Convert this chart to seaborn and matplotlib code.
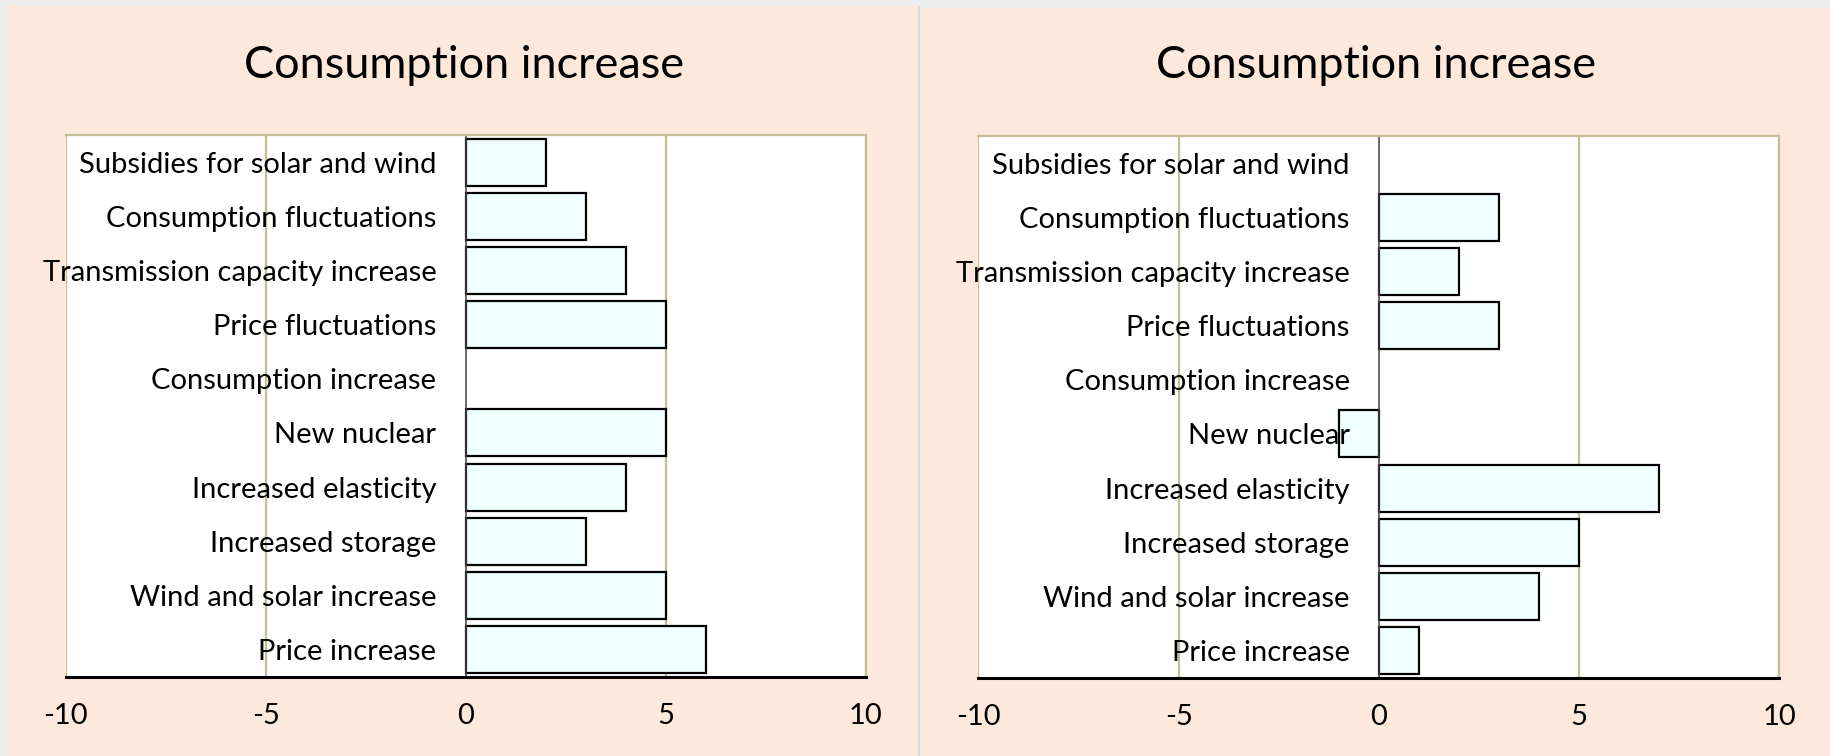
import matplotlib
matplotlib.use("Agg")
import matplotlib.pyplot as plt
from matplotlib.patches import Rectangle
import pandas as pd
import seaborn as sns

categories = [
    "Subsidies for solar and wind",
    "Consumption fluctuations",
    "Transmission capacity increase",
    "Price fluctuations",
    "Consumption increase",
    "New nuclear",
    "Increased elasticity",
    "Increased storage",
    "Wind and solar increase",
    "Price increase",
]
left_values = [2, 3, 4, 5, 0, 5, 4, 3, 5, 6]
right_values = [0, 3, 2, 3, 0, -1, 7, 5, 4, 1]
titles = ["Consumption increase", "Consumption increase"]
x_ticks = [-10, -5, 0, 5, 10]

PEACH = "#FCE9DC"
TAN = "#C4BD97"
BAR = "#F0FFFF"

sns.set_theme(style="white")
plt.rcParams["font.family"] = ["Lato", "DejaVu Sans"]

fig = plt.figure(figsize=(18.31, 7.56), dpi=100)
fig.patch.set_facecolor("#EDEDED")

W, H = 1831, 756
# panel backgrounds (pixel coords -> figure fraction)
for x0, x1, y0 in [(7, 917, 6), (921, 1831, 8)]:
    fig.patches.append(Rectangle((x0 / W, 0), (x1 - x0) / W, 1 - y0 / H,
                                 transform=fig.transFigure, facecolor=PEACH,
                                 edgecolor="none", zorder=-5))

axes_pos = [
    [65.6 / W, 1 - 676.7 / H, 800 / W, (676.7 - 135) / H],
    [978.4 / W, 1 - 677.7 / H, 801 / W, (677.7 - 136) / H],
]
title_x = [463.6 / W, 1375.6 / W]

for pos, vals, title, tx in zip(axes_pos, [left_values, right_values], titles, title_x):
    ax = fig.add_axes(pos)
    ax.set_facecolor("white")
    df = pd.DataFrame({"category": categories, "value": vals})
    sns.barplot(data=df, x="value", y="category", orient="h", color=BAR,
                saturation=1, edgecolor="black", linewidth=1.6, width=0.87,
                ax=ax, zorder=2)
    # zero-length bars are not drawn
    for p in ax.patches:
        if p.get_width() == 0:
            p.set_visible(False)
    ax.set_axisbelow(False)  # category labels sit on top of the bars
    ax.set_xlim(-10, 10)
    ax.set_ylim(len(categories) - 0.5, -0.5)
    for gx in [-10, -5, 5, 10]:
        ax.axvline(gx, color=TAN, lw=1.6, zorder=1)
    ax.spines["left"].set_position(("data", 0))
    ax.spines["left"].set_color("#404040")
    ax.spines["left"].set_linewidth(1.1)
    ax.spines["top"].set_color(TAN)
    ax.spines["top"].set_linewidth(1.6)
    ax.spines["right"].set_color(TAN)
    ax.spines["right"].set_linewidth(1.6)
    ax.spines["bottom"].set_color("black")
    ax.spines["bottom"].set_linewidth(2.2)
    ax.set_xticks(x_ticks)
    ax.set_xticklabels([str(t) for t in x_ticks])
    ax.tick_params(axis="y", length=0, pad=21, labelsize=21, labelcolor="black")
    ax.tick_params(axis="x", length=0, pad=19, labelsize=21, labelcolor="black")
    ax.set_xlabel("")
    ax.set_ylabel("")
    fig.text(tx, 1 - 65 / H, title, ha="center", va="center", fontsize=32.5,
             color="black")

# thin divider between the two panels
fig.add_artist(plt.Line2D([919 / W, 919 / W], [0, 1 - 7 / H],
                          transform=fig.transFigure, color="#D9D9D9", lw=1.5))

fig.savefig("out.png", dpi=100, facecolor=fig.get_facecolor())
